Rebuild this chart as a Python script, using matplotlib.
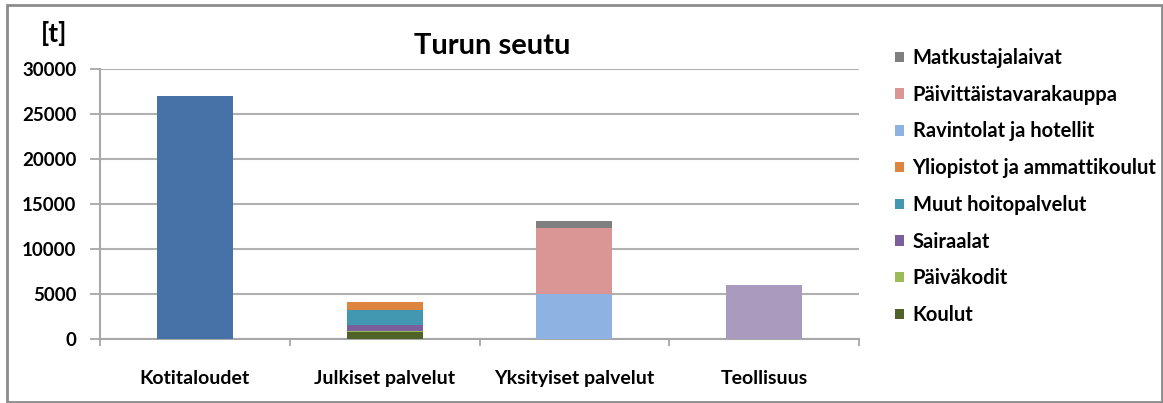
import numpy as np
import matplotlib
matplotlib.use("Agg")
import matplotlib.pyplot as plt
from matplotlib.patches import Rectangle, Patch

plt.rcParams["font.family"] = ["Lato", "DejaVu Sans"]

# ── data (tonnes) ────────────────────────────────────────────────────────────
categories = ["Kotitaloudet", "Julkiset palvelut", "Yksityiset palvelut", "Teollisuus"]

# series in stacking order (bottom → top); zeros where a sector has no value
kotitaloudet      = [27000, 0, 0, 0]
koulut            = [0, 830, 0, 0]
paivakodit        = [0, 100, 0, 0]
sairaalat         = [0, 650, 0, 0]
muut_hoito        = [0, 1650, 0, 0]
yliopistot        = [0, 930, 0, 0]
ravintolat        = [0, 0, 5000, 0]
paivittaistavara  = [0, 0, 7300, 0]
matkustajalaivat  = [0, 0, 850, 0]
teollisuus        = [0, 0, 0, 5950]

series = [
    ("Kotitaloudet", kotitaloudet, "#4672A8", False),
    ("Koulut", koulut, "#4F6228", True),
    ("Päiväkodit", paivakodit, "#9BBB59", True),
    ("Sairaalat", sairaalat, "#7B5E9C", True),
    ("Muut hoitopalvelut", muut_hoito, "#4298B0", True),
    ("Yliopistot ja ammattikoulut", yliopistot, "#DD853E", True),
    ("Ravintolat ja hotellit", ravintolat, "#8EB3E2", True),
    ("Päivittäistavarakauppa", paivittaistavara, "#D99695", True),
    ("Matkustajalaivat", matkustajalaivat, "#7F7F7F", True),
    ("Teollisuus", teollisuus, "#A99BBE", False),
]

# ── figure ───────────────────────────────────────────────────────────────────
W, H = 1163, 403
fig = plt.figure(figsize=(W / 100, H / 100), dpi=100)
ax = fig.add_axes([100 / W, 1 - 339 / H, 759 / W, (339 - 68.7) / H])

x = np.arange(len(categories))
bottom = np.zeros(len(categories))
handles = []
for name, vals, color, in_legend in series:
    vals = np.array(vals, dtype=float)
    ax.bar(x, vals, width=0.40, bottom=bottom, color=color, zorder=3)
    bottom += vals
    if in_legend:
        handles.append(Patch(facecolor=color, label=name))

ax.set_xlim(-0.5, len(categories) - 0.5)
ax.set_ylim(0, 30000)
ax.set_yticks(np.arange(0, 30001, 5000))
ax.tick_params(axis="y", labelsize=13.5, length=7, color="#A0A0A0", width=1.2, pad=10)
for lbl in ax.get_yticklabels():
    lbl.set_fontweight("bold")

ax.set_xticks(x)
ax.set_xticklabels(categories, fontsize=14, fontweight="bold")
ax.set_xticks(np.arange(-0.5, len(categories)), minor=True)
ax.tick_params(axis="x", which="major", length=0, pad=22)
ax.tick_params(axis="x", which="minor", length=5, color="#A0A0A0", width=1.2)

ax.grid(axis="y", color="#B0B0B0", linewidth=1.5, zorder=0)
for s in ["top", "right"]:
    ax.spines[s].set_visible(False)
for s in ["left", "bottom"]:
    ax.spines[s].set_color("#A8A8A8")
    ax.spines[s].set_linewidth(1.5)

fig.text(492 / W, 1 - 46 / H, "Turun seutu", ha="center", va="center",
         fontsize=21, fontweight="bold")
fig.text(54 / W, 1 - 33 / H, "[t]", ha="center", va="center",
         fontsize=19, fontweight="bold")

leg = fig.legend(handles=handles[::-1], loc="upper left",
                 bbox_to_anchor=(887 / W, 1 - 40 / H), frameon=False,
                 fontsize=14.5, handlelength=0.42, handleheight=0.42,
                 handletextpad=0.45, labelspacing=0.83, borderaxespad=0)
for t in leg.get_texts():
    t.set_fontweight("bold")

# outer chart border
fig.patches.append(Rectangle((7 / W, 1 / H), 1155 / W, 397 / H,
                             transform=fig.transFigure, fill=False,
                             edgecolor="#8C8C8C", linewidth=2))

fig.savefig("out.png", dpi=100)
plt.close(fig)
